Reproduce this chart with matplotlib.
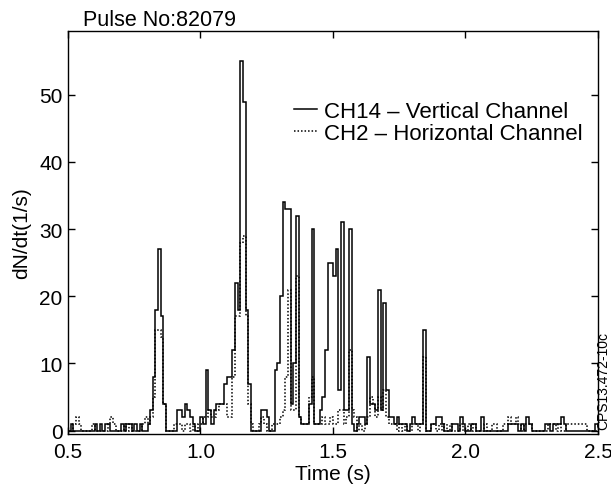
import numpy as np
import matplotlib
matplotlib.use("Agg")
from matplotlib import pyplot as plt

plt.rcParams['font.family'] = ['Liberation Sans', 'DejaVu Sans']

# 0.01 s bins from 0.50 s to 2.50 s
t_start = 0.50
t_step = 0.01

# CH14 - vertical channel, counts rate per bin
ch14 = [0, 1, 0, 0, 0, 0, 0, 0, 0, 0, 1, 0, 1, 0, 1, 1, 0, 0, 0, 0,
        1, 0, 1, 1, 0, 1, 0, 1, 0, 0, 1, 3, 8, 18, 27, 17, 4, 0, 0, 0,
        0, 3, 3, 2, 4, 3, 2, 1, 0, 0, 2, 1, 9, 3, 1, 3, 4, 4, 4, 7,
        8, 8, 12, 22, 18, 55, 49, 18, 7, 0, 0, 0, 0, 3, 3, 2, 0, 0, 9, 10,
        20, 34, 33, 33, 4, 10, 32, 2, 1, 1, 1, 4, 30, 1, 1, 3, 5, 12, 25, 25,
        23, 27, 6, 31, 3, 3, 30, 1, 0, 1, 2, 2, 1, 11, 4, 4, 3, 21, 3, 19,
        6, 2, 2, 1, 2, 1, 1, 1, 0, 1, 2, 1, 1, 1, 15, 0, 0, 1, 1, 2,
        2, 1, 0, 0, 0, 1, 1, 0, 2, 1, 0, 0, 1, 1, 0, 0, 2, 0, 0, 0,
        0, 0, 0, 0, 0, 0, 1, 1, 1, 1, 0, 1, 0, 2, 1, 0, 0, 0, 0, 0,
        1, 1, 0, 1, 1, 1, 2, 1, 0, 0, 0, 0, 0, 0, 0, 0, 0, 0, 0, 1]

# CH2 - horizontal channel
ch2 = [0, 0, 1, 2, 1, 0, 0, 0, 0, 1, 0, 0, 0, 0, 0, 1, 2, 1, 0, 0,
       0, 1, 0, 1, 0, 0, 0, 0, 1, 2, 1, 2, 5, 15, 15, 14, 4, 0, 0, 0,
       1, 1, 1, 0, 1, 1, 0, 1, 0, 1, 1, 2, 2, 3, 2, 2, 3, 4, 4, 4,
       2, 2, 8, 17, 17, 28, 29, 17, 4, 1, 0, 0, 1, 2, 1, 0, 0, 1, 1, 1,
       2, 3, 8, 21, 3, 3, 23, 2, 1, 1, 1, 5, 8, 1, 1, 1, 2, 1, 1, 2,
       1, 1, 3, 3, 1, 2, 12, 3, 2, 0, 1, 0, 1, 2, 5, 4, 2, 5, 3, 6,
       2, 1, 1, 1, 0, 1, 0, 1, 0, 0, 1, 1, 0, 1, 11, 0, 0, 1, 1, 0,
       1, 0, 1, 0, 1, 0, 0, 0, 1, 0, 0, 1, 0, 1, 0, 0, 0, 1, 0, 0,
       1, 1, 0, 0, 1, 1, 2, 1, 1, 2, 1, 0, 1, 1, 1, 0, 0, 0, 0, 0,
       0, 1, 1, 1, 0, 1, 0, 0, 1, 1, 1, 1, 1, 1, 1, 1, 0, 0, 0, 0]

x_ticks = [0.5, 1.0, 1.5, 2.0, 2.5]
y_ticks = [0, 10, 20, 30, 40, 50]

edges = t_start + t_step * np.arange(len(ch14) + 1)

fig = plt.figure(figsize=(6.11, 4.85), dpi=100)
ax = fig.add_axes([0.1113, 0.1031, 0.8674, 0.8309])

ax.stairs(ch2, edges, baseline=None, color='k', linestyle=(0, (1, 1.3)),
          linewidth=1.1, label='CH2 – Horizontal Channel')
ax.stairs(ch14, edges, baseline=None, color='k', linewidth=1.1,
          label='CH14 – Vertical Channel')

ax.set_xlim(0.5, 2.5)
ax.set_ylim(-0.5, 59.5)
ax.set_xticks(x_ticks)
ax.set_xticklabels(['%.1f' % v for v in x_ticks])
ax.set_yticks(y_ticks)
ax.tick_params(direction='in', length=5, width=1, top=True, right=True,
               labelsize=15)
ax.tick_params(axis='x', pad=6)
ax.tick_params(axis='y', pad=4)
for s in ax.spines.values():
    s.set_linewidth(1)

ax.set_xlabel('Time (s)', fontsize=15, labelpad=2)
ax.set_ylabel('dN/dt(1/s)', fontsize=15, labelpad=6)

handles, labels = ax.get_legend_handles_labels()
ax.legend(handles[::-1], labels[::-1], frameon=False, fontsize=16,
          loc='upper left', bbox_to_anchor=(0.426, 0.826), borderaxespad=0,
          borderpad=0, handlelength=1.05, handletextpad=0.32,
          labelspacing=0.03)

fig.text(83 / 611, 0.946, 'Pulse No:82079', fontsize=15.5, va='baseline')
fig.text(0.988, 0.214, 'CPS13.472-10c', fontsize=10, rotation=90,
         ha='center', va='center')

fig.savefig('out.png', dpi=100)
